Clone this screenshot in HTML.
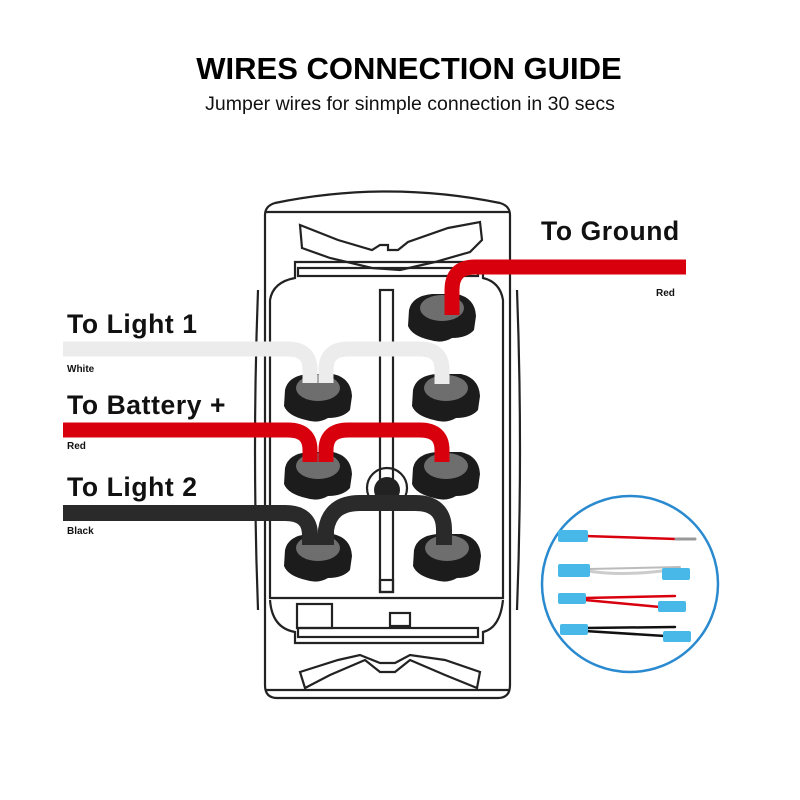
<!DOCTYPE html>
<html><head><meta charset="utf-8"><style>
html,body{margin:0;padding:0;background:#fff;}
svg{display:block;}
</style></head><body>
<svg width="800" height="800" viewBox="0 0 800 800" xmlns="http://www.w3.org/2000/svg">
<rect width="800" height="800" fill="#fff"/>
<text x="409" y="79" text-anchor="middle" font-family="Liberation Sans, sans-serif" font-weight="bold" font-size="31" fill="#000">WIRES CONNECTION GUIDE</text>
<text x="410" y="110" text-anchor="middle" font-family="Liberation Sans, sans-serif" font-size="19.5" fill="#111">Jumper wires for sinmple connection in 30 secs</text>

<g fill="none" stroke="#222" stroke-width="2.2">
  <path d="M265 685 L265 215 Q265 206 275 203 Q387 180 500 203 Q510 206 510 215 L510 685 Q510 698 498 698 L277 698 Q265 698 265 685"/>
  <path d="M265 690 L510 690"/>
  <path d="M265 212 L510 212"/>
  <path d="M258 290 Q252 450 258 610" />
  <path d="M517 290 Q523 450 517 610" />
  <path d="M300 225 L338 240 L372 250 L380 245 L388 245 L388 250 L398 250 L408 242 L448 228 L480 222 L482 240 L470 252 L435 262 L400 270 L372 268 L330 258 L302 248 Z"/>
  <path d="M295 262 L483 262 L483 278 Q500 282 503 300 L503 598 L270 598 L270 300 Q273 282 295 278 Z"/>
  <rect x="298" y="268" width="180" height="8"/>
  <path d="M270 600 Q272 628 295 632 L295 643 L483 643 L483 632 Q500 628 503 600"/>
  <rect x="298" y="628" width="180" height="9"/>
  <rect x="297" y="604" width="35" height="24"/>
  <rect x="390" y="613" width="20" height="13"/>
  <rect x="380" y="580" width="13" height="12"/>
  <path d="M300 672 L338 660 L360 655 L380 663 L395 663 L410 655 L445 660 L480 672 L477 688 L445 675 L410 660 L395 672 L380 672 L365 660 L330 675 L305 688 Z"/>
  <rect x="380" y="290" width="13" height="302"/>
  <circle cx="387" cy="488" r="20"/>
</g>
<circle cx="387" cy="490" r="13" fill="#222"/>

<g>
  <g transform="translate(442,318)"><path d="M-33 -8 Q-30 -22 -10 -24 L15 -24 Q33 -20 34 -2 L32 12 Q25 20 10 20 Q0 26 -12 22 Q-30 18 -34 8 Z" fill="#1c1c1c"/><ellipse cx="0" cy="-10" rx="22" ry="13" fill="#6e6e6e"/></g>
  <g transform="translate(318,398)"><path d="M-33 -8 Q-30 -22 -10 -24 L15 -24 Q33 -20 34 -2 L32 12 Q25 20 10 20 Q0 26 -12 22 Q-30 18 -34 8 Z" fill="#1c1c1c"/><ellipse cx="0" cy="-10" rx="22" ry="13" fill="#6e6e6e"/></g>
  <g transform="translate(446,398)"><path d="M-33 -8 Q-30 -22 -10 -24 L15 -24 Q33 -20 34 -2 L32 12 Q25 20 10 20 Q0 26 -12 22 Q-30 18 -34 8 Z" fill="#1c1c1c"/><ellipse cx="0" cy="-10" rx="22" ry="13" fill="#6e6e6e"/></g>
  <g transform="translate(318,476)"><path d="M-33 -8 Q-30 -22 -10 -24 L15 -24 Q33 -20 34 -2 L32 12 Q25 20 10 20 Q0 26 -12 22 Q-30 18 -34 8 Z" fill="#1c1c1c"/><ellipse cx="0" cy="-10" rx="22" ry="13" fill="#6e6e6e"/></g>
  <g transform="translate(446,476)"><path d="M-33 -8 Q-30 -22 -10 -24 L15 -24 Q33 -20 34 -2 L32 12 Q25 20 10 20 Q0 26 -12 22 Q-30 18 -34 8 Z" fill="#1c1c1c"/><ellipse cx="0" cy="-10" rx="22" ry="13" fill="#6e6e6e"/></g>
  <g transform="translate(318,558)"><path d="M-33 -8 Q-30 -22 -10 -24 L15 -24 Q33 -20 34 -2 L32 12 Q25 20 10 20 Q0 26 -12 22 Q-30 18 -34 8 Z" fill="#1c1c1c"/><ellipse cx="0" cy="-10" rx="22" ry="13" fill="#6e6e6e"/></g>
  <g transform="translate(447,558)"><path d="M-33 -8 Q-30 -22 -10 -24 L15 -24 Q33 -20 34 -2 L32 12 Q25 20 10 20 Q0 26 -12 22 Q-30 18 -34 8 Z" fill="#1c1c1c"/><ellipse cx="0" cy="-10" rx="22" ry="13" fill="#6e6e6e"/></g>
</g>

<g fill="none" stroke-linejoin="round">
  <path d="M686 267 L475 267 Q452 267 452 290 L452 315" stroke="#d9000d" stroke-width="15"/>
  <path d="M63 349 L288 349 Q310 349 310 370 L310 383" stroke="#ececec" stroke-width="15"/>
  <path d="M326 383 L326 370 Q326 349 348 349 L420 349 Q442 349 442 370 L442 384" stroke="#ececec" stroke-width="15"/>
  <path d="M63 430 L288 430 Q310 430 310 450 L310 462" stroke="#d9000d" stroke-width="15"/>
  <path d="M326 462 L326 450 Q326 430 348 430 L420 430 Q442 430 442 450 L442 462" stroke="#d9000d" stroke-width="15"/>
  <path d="M63 513 L285 513 Q310 513 310 535 L310 545" stroke="#2a2a2a" stroke-width="16"/>
  <path d="M326 545 L326 530 Q330 503 360 503 L415 503 Q444 503 444 530 L444 545" stroke="#2a2a2a" stroke-width="16"/>
</g>

<g font-family="Liberation Sans, sans-serif" fill="#111">
  <text x="541" y="240" font-size="26.5" font-weight="bold" letter-spacing="0.6">To Ground</text>
  <text x="656" y="296" font-size="10" font-weight="bold">Red</text>
  <text x="67" y="333" font-size="26.5" font-weight="bold" letter-spacing="0.6">To Light 1</text>
  <text x="67" y="372" font-size="10" font-weight="bold">White</text>
  <text x="67" y="414" font-size="26.5" font-weight="bold" letter-spacing="0.6">To Battery +</text>
  <text x="67" y="449" font-size="10" font-weight="bold">Red</text>
  <text x="67" y="496" font-size="26.5" font-weight="bold" letter-spacing="0.6">To Light 2</text>
  <text x="67" y="534" font-size="10" font-weight="bold">Black</text>
</g>

<circle cx="630" cy="584" r="88" fill="#fff" stroke="#2a8ad0" stroke-width="2.5"/>
<g stroke-linecap="round">
  <line x1="585" y1="536" x2="676" y2="539" stroke="#d9000d" stroke-width="2.5"/>
  <line x1="676" y1="539" x2="695" y2="539" stroke="#999" stroke-width="3"/>
  <rect x="558" y="530" width="30" height="12" rx="2" fill="#48b8e8"/>
  <path d="M588 571 Q620 576 662 571" stroke="#ccc" stroke-width="3" fill="none"/>
  <path d="M588 569 L680 567" stroke="#bbb" stroke-width="2" fill="none"/>
  <rect x="558" y="564" width="32" height="13" rx="2" fill="#48b8e8"/>
  <rect x="662" y="568" width="28" height="12" rx="2" fill="#48b8e8"/>
  <line x1="585" y1="598" x2="675" y2="596" stroke="#d9000d" stroke-width="2.5"/>
  <line x1="585" y1="600" x2="660" y2="607" stroke="#d9000d" stroke-width="2.5"/>
  <rect x="558" y="593" width="28" height="11" rx="2" fill="#48b8e8"/>
  <rect x="658" y="601" width="28" height="11" rx="2" fill="#48b8e8"/>
  <line x1="585" y1="628" x2="675" y2="627" stroke="#111" stroke-width="2.5"/>
  <line x1="585" y1="631" x2="665" y2="636" stroke="#111" stroke-width="2.5"/>
  <rect x="560" y="624" width="28" height="11" rx="2" fill="#48b8e8"/>
  <rect x="663" y="631" width="28" height="11" rx="2" fill="#48b8e8"/>
</g>
</svg>
</body></html>
